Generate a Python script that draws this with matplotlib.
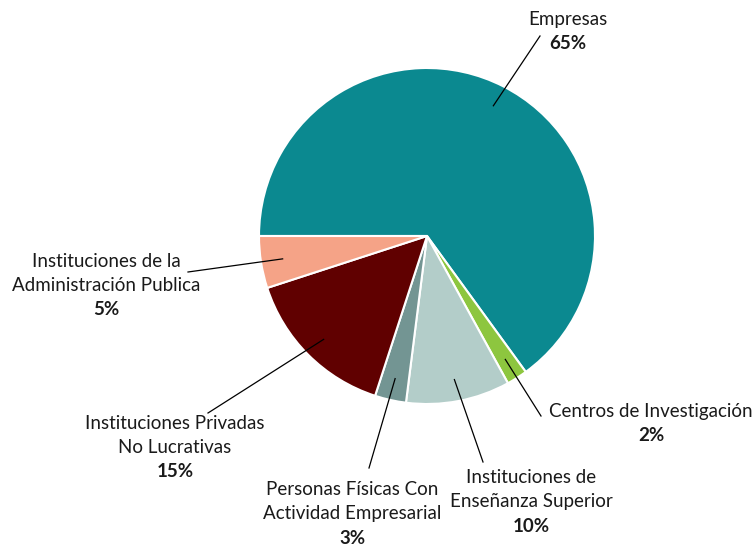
import matplotlib
matplotlib.use('Agg')
import numpy as np
import matplotlib.pyplot as plt

plt.rcParams['font.family'] = ['Lato', 'DejaVu Sans']

# data
categories = ['Empresas', 'Centros de Investigación', 'Instituciones de\nEnseñanza Superior',
              'Personas Físicas Con\nActividad Empresarial', 'Instituciones Privadas\nNo Lucrativas',
              'Instituciones de la\nAdministración Publica']
values = [65, 2, 10, 3, 15, 5]
colors = ['#0b8990', '#8dc63f', '#b3cdc9', '#739593', '#600000', '#f5a387']

# label placement in pixel coords (text centre of first line, end of leader line)
px_center = (427, 236)
R_px = 168
label_xy = [(568, 20), (651, 412), (531, 478), (352, 490), (175, 424), (106, 262)]
line_end = [(540, 36), (541, 416), (483, 462), (369, 468), (208, 413), (188, 272)]


def to_data(p):
    return ((p[0] - px_center[0]) / R_px, (px_center[1] - p[1]) / R_px)


fig = plt.figure(figsize=(7.55, 5.47), dpi=100)
ax = fig.add_axes([0, 0, 1, 1])

wedges, _ = ax.pie(values, colors=colors, startangle=180, counterclock=False, radius=1,
                   center=(0, 0), wedgeprops=dict(edgecolor='white', linewidth=1.5))

ax.set_xlim(-px_center[0] / R_px, (755 - px_center[0]) / R_px)
ax.set_ylim((px_center[1] - 547) / R_px, px_center[1] / R_px)
ax.set_aspect('equal')
ax.axis('off')

line_h = 24 / R_px
for w, name, v, lxy, le in zip(wedges, categories, values, label_xy, line_end):
    mid = np.deg2rad((w.theta1 + w.theta2) / 2)
    sx, sy = 0.87 * np.cos(mid), 0.87 * np.sin(mid)
    ex, ey = to_data(le)
    ax.plot([sx, ex], [sy, ey], color='black', lw=0.9)
    tx, ty = to_data(lxy)
    lines = name.split('\n')
    for i, ln in enumerate(lines):
        ax.text(tx, ty - i * line_h, ln, ha='center', va='center', fontsize=13.5,
                color='#1a1a1a')
    ax.text(tx, ty - len(lines) * line_h, f'{v}%', ha='center',
            va='center', fontsize=13.5, fontweight='bold', color='#1a1a1a')

fig.savefig('out.png', dpi=100)
